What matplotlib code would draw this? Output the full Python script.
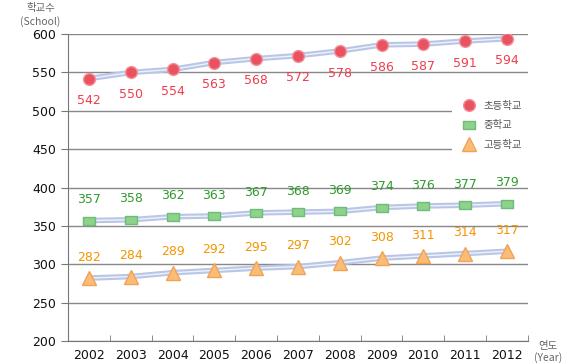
import matplotlib.pyplot as plt
import matplotlib.patches as mpatches
import numpy as np

plt.rcParams['font.family'] = ['Noto Sans CJK KR', 'DejaVu Sans']

years = ['2002', '2003', '2004', '2005', '2006', '2007', '2008', '2009', '2010', '2011', '2012']
elementary = [542, 550, 554, 563, 568, 572, 578, 586, 587, 591, 594]
middle = [357, 358, 362, 363, 367, 368, 369, 374, 376, 377, 379]
high = [282, 284, 289, 292, 295, 297, 302, 308, 311, 314, 317]
names = ['초등학교', '중학교', '고등학교']

fig = plt.figure(figsize=(5.64, 3.63), dpi=100)
ax = fig.add_axes([0.1206, 0.0606, 0.8154, 0.8454])

x = np.arange(len(years))
series = [
    (elementary, 'o', '#e9525f', '#f3909a', 8.5, '#f03c4c', -16),
    (middle, 's', '#8fd28a', '#6dbd7a', 8.5, '#2f9a2f', 15),
    (high, '^', '#fbbd76', '#f2a257', 10, '#f59500', 15),
]
handles = []
for (vals, mk, fc, ec, ms, tc, dy), name in zip(series, names):
    # light double line
    ax.plot(x, vals, color='#b9c6e6', lw=4, zorder=2, solid_capstyle='round')
    ax.plot(x, vals, color='#eef2fb', lw=1, zorder=2.5)
    marker = mk
    if mk == 's':
        marker = np.array([[-1.4, -1], [1.4, -1], [1.4, 1], [-1.4, 1], [-1.4, -1]])
    h, = ax.plot(x, vals, linestyle='none', marker=marker, markersize=ms, markerfacecolor=fc,
                 markeredgecolor=ec, zorder=3, label=name)
    handles.append(h)
    for xi, v in zip(x, vals):
        ax.annotate(str(v), (xi, v), xytext=(0, dy), textcoords='offset points',
                    ha='center', va='center', fontsize=9, color=tc, family='DejaVu Sans')

ax.set_xlim(-0.5, len(years) - 0.5)
ax.set_ylim(200, 600)
ax.set_yticks(np.arange(200, 601, 50))
ax.set_xticks(x)
ax.set_xticklabels(years)
ax.set_xticks(np.arange(-0.5, len(years)), minor=True)
ax.tick_params(axis='x', which='major', length=0, pad=6, labelsize=9, labelcolor='#111111')
ax.tick_params(axis='x', which='minor', length=4, color='#777777', direction='in')
ax.tick_params(axis='y', length=5, color='#777777', labelsize=9, labelcolor='#111111')
for lbl in ax.get_xticklabels() + ax.get_yticklabels():
    lbl.set_family('DejaVu Sans')
ax.grid(axis='y', color='#888888', lw=1)
ax.set_axisbelow(True)
for s in ['top', 'right']:
    ax.spines[s].set_visible(False)
for s in ['left', 'bottom']:
    ax.spines[s].set_color('#777777')

# white box behind the legend hides the grid there
ax.add_patch(mpatches.Rectangle((0.801, 0.565), 0.2, 0.182, transform=fig.transFigure,
                                facecolor='white', edgecolor='none', zorder=1))

fig.text(0.072, 0.978, '학교수', ha='center', va='center', fontsize=7.5, color='#666666')
fig.text(0.072, 0.942, '(School)', ha='center', va='center', fontsize=7.5, color='#666666')
fig.text(0.972, 0.048, '연도', ha='center', va='center', fontsize=7.5, color='#666666')
fig.text(0.972, 0.015, '(Year)', ha='center', va='center', fontsize=7.5, color='#666666')

leg = fig.legend(handles=handles, loc='upper left', bbox_to_anchor=(0.805, 0.745),
                 frameon=False, fontsize=7.5, labelspacing=0.9, handlelength=1.2,
                 handletextpad=0.8, borderpad=0.3)
for t in leg.get_texts():
    t.set_color('#555555')

fig.savefig('out.png', dpi=100)
